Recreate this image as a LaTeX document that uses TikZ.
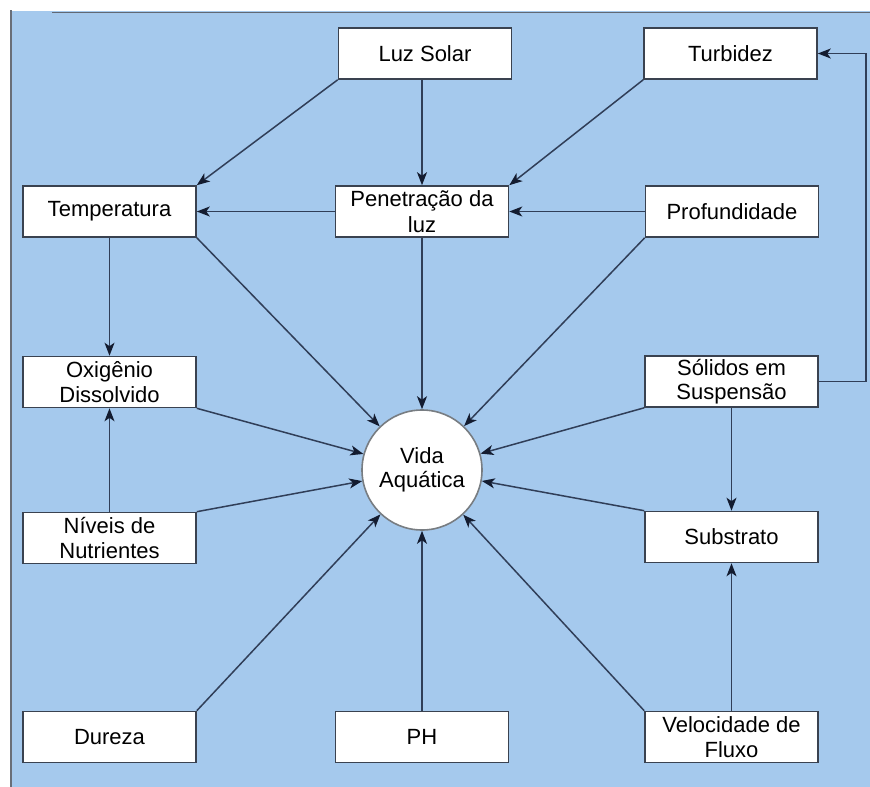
\documentclass[tikz,border=0pt]{standalone}
\usepackage{fontspec}
\setmainfont{Liberation Sans}
\usetikzlibrary{arrows.meta}
\definecolor{bgblue}{RGB}{165,201,237}
\definecolor{edgec}{RGB}{58,66,80}
\definecolor{linkc}{RGB}{48,62,88}
\definecolor{tipc}{RGB}{20,28,48}
\definecolor{framec}{RGB}{105,110,120}
\definecolor{hubedge}{RGB}{120,125,130}

\begin{document}
\begin{tikzpicture}[x=1pt,y=-1pt,
  box/.style={draw=edgec, line width=1.6pt, fill=white,
    minimum width=173pt, minimum height=51pt, inner sep=0pt,
    align=center, font=\fontsize{22}{24.5}\selectfont},
  hub/.style={circle, draw=hubedge, line width=1.6pt, fill=white,
    minimum size=120pt, inner sep=0pt, align=center,
    font=\fontsize{22}{23.5}\selectfont},
  link/.style={draw=linkc, line width=1.5pt,
    -{Stealth[length=13pt,width=10pt,inset=3.5pt,color=tipc]}}
]
\useasboundingbox (0,0) rectangle (870,787);
% page and coloured panel
\fill[white] (0,0) rectangle (870,787);
\fill[bgblue] (11,11) rectangle (870,787);
\draw[framec, line width=1.8pt] (11,10) -- (11,787);
\draw[edgec!80, line width=1.8pt] (52,12.5) -- (870,12.5);

% factors
\node[box] (luz)  at (425,53.5)   {Luz Solar};
\node[box] (turb) at (730.5,53.5) {Turbidez};
\node[box] (temp) at (109.5,211.5) {Temperatura};
\node[box] (pen)  at (422,211.5)  {Penetração da\\[1pt]luz};
\node[box] (prof) at (732,211.5)  {Profundidade};
\node[box] (oxi)  at (109.5,382)  {Oxigênio\\Dissolvido};
\node[box] (sol)  at (731.5,381.5) {Sólidos em\\Suspensão};
\node[box] (niv)  at (109.5,538)  {Níveis de\\Nutrientes};
\node[box] (sub)  at (731.5,537)  {Substrato};
\node[box] (dur)  at (109.5,737)  {Dureza};
\node[box] (ph)   at (422,737)    {PH};
\node[box] (vel)  at (731.5,737)  {Velocidade de\\Fluxo};

% centre
\node[hub] (vida) at (422,470) {Vida\\Aquática};

% links between factors
\draw[link] (luz.south west) -- (temp.north east);
\draw[link] (pen.north |- luz.south) -- (pen.north);
\draw[link] (turb.south west) -- (pen.north east);
\draw[link] (pen.west) -- (temp.east);
\draw[link] (prof.west) -- (pen.east);
\draw[link] (temp.south) -- (oxi.north);
\draw[link] (niv.north) -- (oxi.south);
\draw[link] (sol.south) -- (sub.north);
\draw[link] (vel.north) -- (sub.south);
\draw[link] (sol.east) -- ++(47,0) |- (turb.east);

% links into the centre
\draw[link] (temp.south east) -- (vida);
\draw[link] (pen.south) -- (vida);
\draw[link] (prof.south west) -- (vida);
\draw[link] (oxi.south east) -- (vida);
\draw[link] (sol.south west) -- (vida);
\draw[link] (niv.north east) -- (vida);
\draw[link] (sub.north west) -- (vida);
\draw[link] (dur.north east) -- (vida);
\draw[link] (ph.north) -- (vida);
\draw[link] (vel.north west) -- (vida);
\end{tikzpicture}
\end{document}
